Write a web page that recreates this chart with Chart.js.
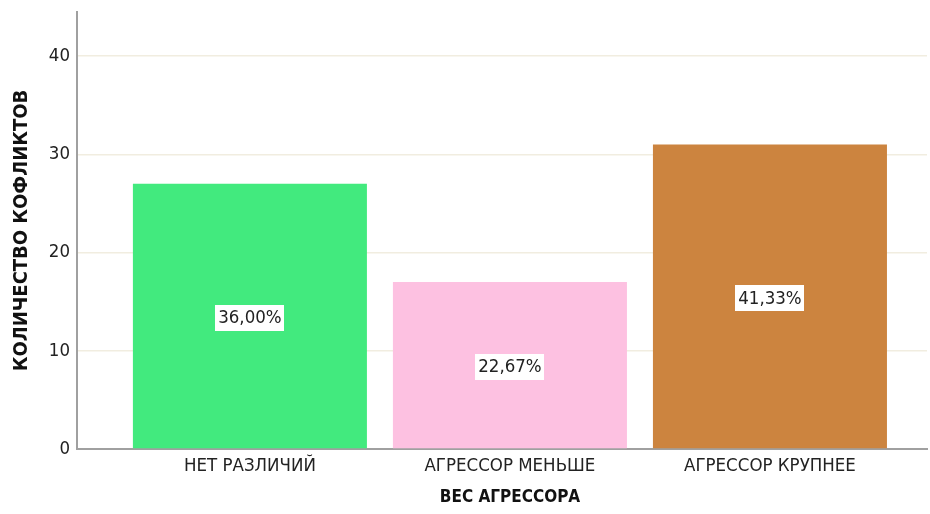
<!DOCTYPE html>
<html><head><meta charset="utf-8">
<script src="https://cdn.jsdelivr.net/npm/chart.js@4/dist/chart.umd.min.js"></script>
<style>html,body{margin:0;padding:0;background:#fff}#wrap{width:930px;height:514px}</style>
</head><body><div id="wrap"><canvas id="c" width="930" height="514"></canvas></div>
<script>
const categories = ['НЕТ РАЗЛИЧИЙ', 'АГРЕССОР МЕНЬШЕ', 'АГРЕССОР КРУПНЕЕ'];
const counts = [27, 17, 31];
const percentLabels = ['36,00%', '22,67%', '41,33%'];
const barColors = ['#42EA7E', '#FDC1E1', '#CC843F'];
const yTicks = [0, 10, 20, 30, 40];
const xTitle = 'ВЕС АГРЕССОРА';
const yTitle = 'КОЛИЧЕСТВО КОФЛИКТОВ';
const FONT = '"DejaVu Sans Condensed", "DejaVu Sans", sans-serif';

const labelPlugin = {
  id: 'pctLabels',
  afterDatasetsDraw(chart) {
    const ctx = chart.ctx;
    const meta = chart.getDatasetMeta(0);
    ctx.save();
    ctx.font = '18.5px ' + FONT;
    ctx.textAlign = 'center';
    ctx.textBaseline = 'middle';
    meta.data.forEach((bar, i) => {
      const cx = bar.x;
      const cy = (bar.y + bar.base) / 2 + 1.5;
      const t = percentLabels[i];
      const w = ctx.measureText(t).width + 6;
      const h = 26;
      ctx.fillStyle = '#fff';
      ctx.fillRect(Math.round(cx - w / 2), Math.round(cy - h / 2), Math.round(w), h);
      ctx.fillStyle = '#222';
      ctx.fillText(t, cx, cy + 1);
    });
    // x axis title
    const xs = chart.scales.x;
    ctx.font = 'bold 17px ' + FONT;
    ctx.fillStyle = '#111';
    ctx.fillText(xTitle, (xs.left + xs.right) / 2 + 8, 498);
    ctx.restore();
  }
};

new Chart(document.getElementById('c'), {
  type: 'bar',
  data: {
    datasets: [{
      data: counts.map((v, i) => ({x: i, y: v})),
      backgroundColor: barColors,
      borderWidth: 0,
      barPercentage: 1,
      categoryPercentage: 0.9
    }]
  },
  options: {
    responsive: false,
    animation: false,
    events: [],
    layout: {padding: {top: 12, right: 3, left: 0, bottom: 0}},
    plugins: {legend: {display: false}, tooltip: {enabled: false}},
    scales: {
      x: {
        type: 'linear',
        offset: false,
        min: -0.665,
        max: 2.604,
        afterBuildTicks(scale) { scale.ticks = categories.map((c, i) => ({value: i})); },
        afterFit(scale) { scale.height = 65; scale.paddingLeft = 0; scale.paddingRight = 0; },
        grid: {display: false, drawTicks: false, offset: false},
        border: {display: true, color: '#a0a0a0', width: 2},
        ticks: {
          autoSkip: false, maxRotation: 0, padding: 6,
          color: '#222', font: {family: FONT, size: 18.5},
          callback: (v) => categories[v] ?? ''
        },
        title: {display: false}
      },
      y: {
        min: 0,
        max: 44.5,
        afterBuildTicks(scale) { scale.ticks = yTicks.map(v => ({value: v})); },
        afterFit(scale) { scale.width = 77; scale.paddingTop = 0; scale.paddingBottom = 0; },
        grid: {color: (c) => c.tick && c.tick.value === 0 ? 'rgba(0,0,0,0)' : '#f1ede0', lineWidth: 1.5, drawTicks: false},
        border: {display: true, color: '#a0a0a0', width: 2},
        ticks: {padding: 7, color: '#222', font: {family: FONT, size: 18.5}},
        title: {display: true, text: yTitle, color: '#111',
          font: {family: FONT, size: 20, weight: 'bold'}, padding: {top: 10, bottom: 0}}
      }
    }
  },
  plugins: [labelPlugin]
});
</script>
</body></html>
